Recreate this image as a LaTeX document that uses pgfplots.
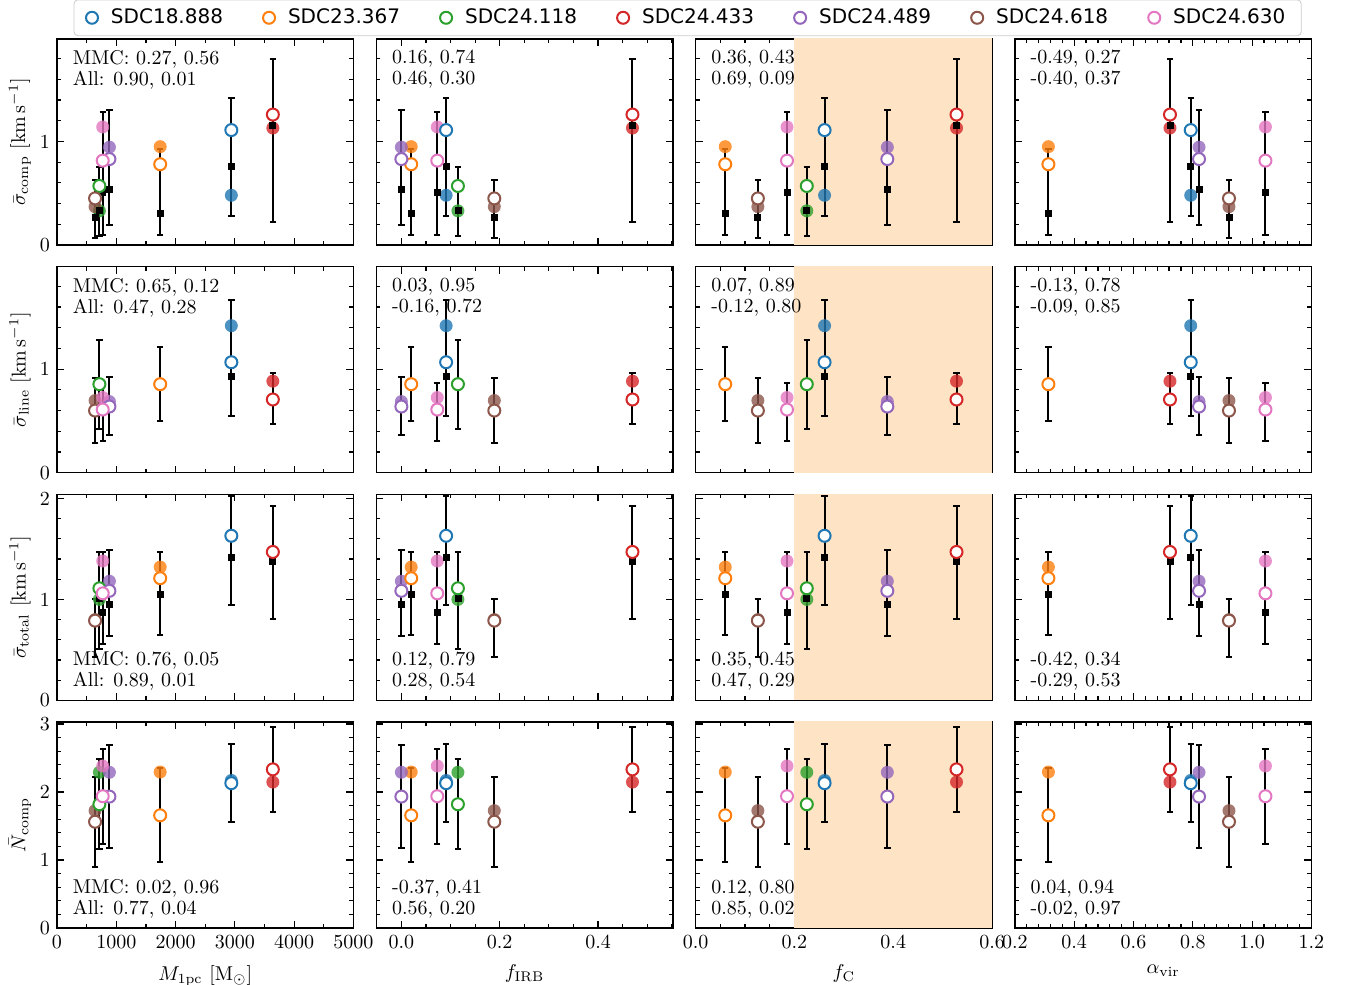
\documentclass[border=0pt]{standalone}
\usepackage{fontspec}
\usepackage{pgfplots}
\usepackage{pgfplotstable}
\pgfplotsset{compat=1.18}
\newfontfamily\legfont{DejaVu Sans}
\definecolor{cA}{RGB}{31,119,180}
\definecolor{cB}{RGB}{255,127,14}
\definecolor{cC}{RGB}{44,160,44}
\definecolor{cD}{RGB}{214,39,40}
\definecolor{cE}{RGB}{148,103,189}
\definecolor{cF}{RGB}{140,86,75}
\definecolor{cG}{RGB}{227,119,194}
\definecolor{shade}{RGB}{254,227,196}

\pgfplotstableread{
name M fIRB fC avir f1 o1 s1 l1 h1 f2 o2 s2 l2 h2 f3 o3 s3 l3 h3 f4 o4 s4 l4 h4
A 2940 0.091 0.261 0.793 0.48 1.11 0.76 0.28 1.42 1.42 1.067 0.935 0.55 1.67 1.63 1.63 1.42 0.94 2.02 2.17 2.13 2.13 1.553 2.70
B 1740 0.020 0.060 0.313 0.95 0.78 0.31 0.10 0.93 0.855 0.855 0.855 0.50 1.214 1.32 1.21 1.05 0.645 1.47 2.294 1.657 1.657 0.97 2.353
C 715 0.115 0.225 nan 0.33 0.57 0.33 0.09 0.75 0.855 0.855 0.855 0.424 1.28 1.00 1.11 1.01 0.51 1.47 2.29 1.82 1.82 1.16 2.486
D 3640 0.470 0.528 0.723 1.13 1.26 1.155 0.22 1.80 0.884 0.707 0.707 0.47 0.967 1.47 1.47 1.38 0.81 1.93 2.146 2.333 2.333 1.71 2.96
E 884 0.000 0.388 0.821 0.945 0.83 0.54 0.19 1.30 0.687 0.639 0.639 0.36 0.928 1.18 1.085 0.95 0.64 1.486 2.29 1.933 1.933 1.18 2.69
F 642 0.189 0.126 0.922 0.37 0.45 0.27 0.07 0.63 0.697 0.60 0.60 0.29 0.91 0.80 0.79 0.79 0.43 1.006 1.726 1.563 1.563 0.90 2.225
G 771 0.073 0.185 1.045 1.14 0.815 0.51 0.10 1.28 0.726 0.61 0.61 0.31 0.87 1.38 1.06 0.87 0.556 1.47 2.383 1.938 1.938 1.24 2.63
}\data

\tikzset{
  ann/.style={anchor=north west, align=left, inner sep=0pt, font=\fontsize{10}{10.5}\selectfont},
  annb/.style={anchor=south west, align=left, inner sep=0pt, font=\fontsize{10}{10.5}\selectfont},
}
\pgfplotsset{
  panel/.style={
    scale only axis, width=148.25pt, height=103pt, anchor=south west,
    axis line style={line width=0.8pt},
    tick align=inside, tick pos=both, xticklabel pos=lower, yticklabel pos=left,
    major tick length=3.5pt, minor tick length=2pt,
    every tick/.style={black, line width=0.6pt},
    tick label style={font=\fontsize{10}{12}\selectfont},
    label style={font=\fontsize{10}{12}\selectfont},
    every axis y label/.style={at={(rel axis cs:-0.125,0.5)}, rotate=90, anchor=center},
    every axis x label/.style={at={(rel axis cs:0.5,0)}, anchor=north, yshift=-15pt},
  },
  col1/.style={xmin=0,xmax=5000, xtick={0,1000,2000,3000,4000,5000}, minor xtick={500,1500,2500,3500,4500}, xticklabels={0,1000,2000,3000,4000,5000}},
  col2/.style={xmin=-0.051,xmax=0.552, xtick={0,0.2,0.4}, minor xtick={-0.05,0.05,0.1,0.15,0.25,0.3,0.35,0.45,0.5,0.55}, xticklabels={0.0,0.2,0.4}},
  col3/.style={xmin=0,xmax=0.6, xtick={0,0.2,0.4,0.6}, minor xtick={0.05,0.1,0.15,0.25,0.3,0.35,0.45,0.5,0.55}, xticklabels={0.0,0.2,0.4,0.6}},
  col4/.style={xmin=0.2,xmax=1.2, xtick={0.2,0.4,0.6,0.8,1.0,1.2}, minor xtick={0.24,0.28,0.32,0.36,0.44,0.48,0.52,0.56,0.64,0.68,0.72,0.76,0.84,0.88,0.92,0.96,1.04,1.08,1.12,1.16}, xticklabels={0.2,0.4,0.6,0.8,1.0,1.2}},
  row1/.style={ymin=0,ymax=1.99, ytick={0,1}, yticklabels={0,1}, minor ytick={0.2,0.4,0.6,0.8,1.2,1.4,1.6,1.8}},
  row2/.style={ymin=0,ymax=1.99, ytick={0,1}, yticklabels={0,1}, minor ytick={0.2,0.4,0.6,0.8,1.2,1.4,1.6,1.8}},
  row3/.style={ymin=0,ymax=2.04, ytick={0,1,2}, yticklabels={0,1,2}, minor ytick={0.2,0.4,0.6,0.8,1.2,1.4,1.6,1.8}},
  row4/.style={ymin=0,ymax=3.03, ytick={0,1,2,3}, yticklabels={0,1,2,3}, minor ytick={0.2,0.4,0.6,0.8,1.2,1.4,1.6,1.8,2.2,2.4,2.6,2.8}},
  nox/.style={xticklabels={}},
  noy/.style={yticklabels={}},
  filledpts/.style={only marks, forget plot, scatter, scatter src=explicit symbolic, mark=*, mark size=3.25pt,
    scatter/classes={
      A={draw=none, draw opacity=0, fill=cA, fill opacity=0.8},
      B={draw=none, draw opacity=0, fill=cB, fill opacity=0.8},
      C={draw=none, draw opacity=0, fill=cC, fill opacity=0.8},
      D={draw=none, draw opacity=0, fill=cD, fill opacity=0.8},
      E={draw=none, draw opacity=0, fill=cE, fill opacity=0.8},
      F={draw=none, draw opacity=0, fill=cF, fill opacity=0.8},
      G={draw=none, draw opacity=0, fill=cG, fill opacity=0.8}}},
  openpts/.style={only marks, forget plot, scatter, scatter src=explicit symbolic, mark=*, mark size=3pt,
    scatter/classes={
      A={draw=cA, fill=white, line width=1pt},
      B={draw=cB, fill=white, line width=1pt},
      C={draw=cC, fill=white, line width=1pt},
      D={draw=cD, fill=white, line width=1pt},
      E={draw=cE, fill=white, line width=1pt},
      F={draw=cF, fill=white, line width=1pt},
      G={draw=cG, fill=white, line width=1pt}}},
  errpts/.style={only marks, forget plot, mark=square*, mark size=1.5pt, black,
    error bars/.cd, y dir=both, y explicit,
    error bar style={line width=1pt, black},
    error mark options={rotate=90, line width=1pt, mark size=1.6pt, black}},
}

\newcommand{\layers}[2]{%
  \addplot[filledpts] table[x=#1, y=f#2, meta=name] {\data};
  \addplot[errpts] table[x=#1, y=s#2, y error plus expr=\thisrow{h#2}-\thisrow{s#2}, y error minus expr=\thisrow{s#2}-\thisrow{l#2}] {\data};
  \addplot[openpts] table[x=#1, y=o#2, meta=name] {\data};
}
\newcommand{\shadeC}{%
  \addplot[forget plot, draw=none, fill=shade] coordinates {(0.2,0) (0.6,0) (0.6,3.1) (0.2,3.1)} -- cycle;
}

\begin{document}
\begin{tikzpicture}
\useasboundingbox (0,0) rectangle (672.5pt,492.5pt);

% ---------------- row 1
\begin{axis}[panel, col1, row1, nox, at={(28.5pt,370pt)},
  ylabel={$\bar{\sigma}_{\mathrm{comp}}$ [km\,s$^{-1}$]},
  legend columns=7,
  legend style={at={(2.127,1.103)}, anchor=center, draw={rgb,255:red,204;green,204;blue,204}, rounded corners=2pt,
    font=\legfont\fontsize{10}{12}\selectfont, nodes={font=\legfont\fontsize{10}{12}\selectfont}, inner xsep=6pt, inner ysep=2.5pt,
    /tikz/every odd column/.append style={column sep=4.5pt},
    /tikz/every even column/.append style={column sep=18pt}},
  legend cell align=left]
\addlegendimage{only marks, mark=*, mark size=3pt, draw=cA, fill=white, line width=1pt}\addlegendentry{SDC18.888}
\addlegendimage{only marks, mark=*, mark size=3pt, draw=cB, fill=white, line width=1pt}\addlegendentry{SDC23.367}
\addlegendimage{only marks, mark=*, mark size=3pt, draw=cC, fill=white, line width=1pt}\addlegendentry{SDC24.118}
\addlegendimage{only marks, mark=*, mark size=3pt, draw=cD, fill=white, line width=1pt}\addlegendentry{SDC24.433}
\addlegendimage{only marks, mark=*, mark size=3pt, draw=cE, fill=white, line width=1pt}\addlegendentry{SDC24.489}
\addlegendimage{only marks, mark=*, mark size=3pt, draw=cF, fill=white, line width=1pt}\addlegendentry{SDC24.618}
\addlegendimage{only marks, mark=*, mark size=3pt, draw=cG, fill=white, line width=1pt}\addlegendentry{SDC24.630}
\layers{M}{1}
\node[ann] at (rel axis cs:0.052,0.947) {MMC: 0.27, 0.56\\All: 0.90, 0.01};
\end{axis}
\begin{axis}[panel, col2, row1, nox, noy, at={(188.15pt,370pt)}]
\layers{fIRB}{1}
\node[ann] at (rel axis cs:0.052,0.947) {0.16, 0.74\\0.46, 0.30};
\end{axis}
\begin{axis}[panel, col3, row1, nox, noy, at={(347.8pt,370pt)}]
\shadeC
\layers{fC}{1}
\node[ann] at (rel axis cs:0.052,0.947) {0.36, 0.43\\0.69, 0.09};
\end{axis}
\begin{axis}[panel, col4, row1, nox, noy, at={(507.45pt,370pt)}]
\layers{avir}{1}
\node[ann] at (rel axis cs:0.052,0.947) {-0.49, 0.27\\-0.40, 0.37};
\end{axis}

% ---------------- row 2
\begin{axis}[panel, col1, row2, nox, at={(28.5pt,256.15pt)},
  ylabel={$\bar{\sigma}_{\mathrm{line}}$ [km\,s$^{-1}$]}]
\layers{M}{2}
\node[ann] at (rel axis cs:0.052,0.947) {MMC: 0.65, 0.12\\All: 0.47, 0.28};
\end{axis}
\begin{axis}[panel, col2, row2, nox, noy, at={(188.15pt,256.15pt)}]
\layers{fIRB}{2}
\node[ann] at (rel axis cs:0.052,0.947) {0.03, 0.95\\-0.16, 0.72};
\end{axis}
\begin{axis}[panel, col3, row2, nox, noy, at={(347.8pt,256.15pt)}]
\shadeC
\layers{fC}{2}
\node[ann] at (rel axis cs:0.052,0.947) {0.07, 0.89\\-0.12, 0.80};
\end{axis}
\begin{axis}[panel, col4, row2, nox, noy, at={(507.45pt,256.15pt)}]
\layers{avir}{2}
\node[ann] at (rel axis cs:0.052,0.947) {-0.13, 0.78\\-0.09, 0.85};
\end{axis}

% ---------------- row 3
\begin{axis}[panel, col1, row3, nox, at={(28.5pt,142.3pt)},
  ylabel={$\bar{\sigma}_{\mathrm{total}}$ [km\,s$^{-1}$]}]
\layers{M}{3}
\node[annb] at (rel axis cs:0.052,0.046) {MMC: 0.76, 0.05\\All: 0.89, 0.01};
\end{axis}
\begin{axis}[panel, col2, row3, nox, noy, at={(188.15pt,142.3pt)}]
\layers{fIRB}{3}
\node[annb] at (rel axis cs:0.052,0.046) {0.12, 0.79\\0.28, 0.54};
\end{axis}
\begin{axis}[panel, col3, row3, nox, noy, at={(347.8pt,142.3pt)}]
\shadeC
\layers{fC}{3}
\node[annb] at (rel axis cs:0.052,0.046) {0.35, 0.45\\0.47, 0.29};
\end{axis}
\begin{axis}[panel, col4, row3, nox, noy, at={(507.45pt,142.3pt)}]
\layers{avir}{3}
\node[annb] at (rel axis cs:0.052,0.046) {-0.42, 0.34\\-0.29, 0.53};
\end{axis}

% ---------------- row 4
\begin{axis}[panel, col1, row4, at={(28.5pt,28.5pt)},
  ylabel={$\bar{N}_{\mathrm{comp}}$}, xlabel={$M_{\mathrm{1pc}}$ [M$_\odot$]}]
\layers{M}{4}
\node[annb] at (rel axis cs:0.052,0.046) {MMC: 0.02, 0.96\\All: 0.77, 0.04};
\end{axis}
\begin{axis}[panel, col2, row4, noy, at={(188.15pt,28.5pt)}, xlabel={$f_{\mathrm{IRB}}$}]
\layers{fIRB}{4}
\node[annb] at (rel axis cs:0.052,0.046) {-0.37, 0.41\\0.56, 0.20};
\end{axis}
\begin{axis}[panel, col3, row4, noy, at={(347.8pt,28.5pt)}, xlabel={$f_{\mathrm{C}}$}]
\shadeC
\layers{fC}{4}
\node[annb] at (rel axis cs:0.052,0.046) {0.12, 0.80\\0.85, 0.02};
\end{axis}
\begin{axis}[panel, col4, row4, noy, at={(507.45pt,28.5pt)}, xlabel={$\alpha_{\mathrm{vir}}$}]
\layers{avir}{4}
\node[annb] at (rel axis cs:0.052,0.046) {0.04, 0.94\\-0.02, 0.97};
\end{axis}
\end{tikzpicture}
\end{document}
